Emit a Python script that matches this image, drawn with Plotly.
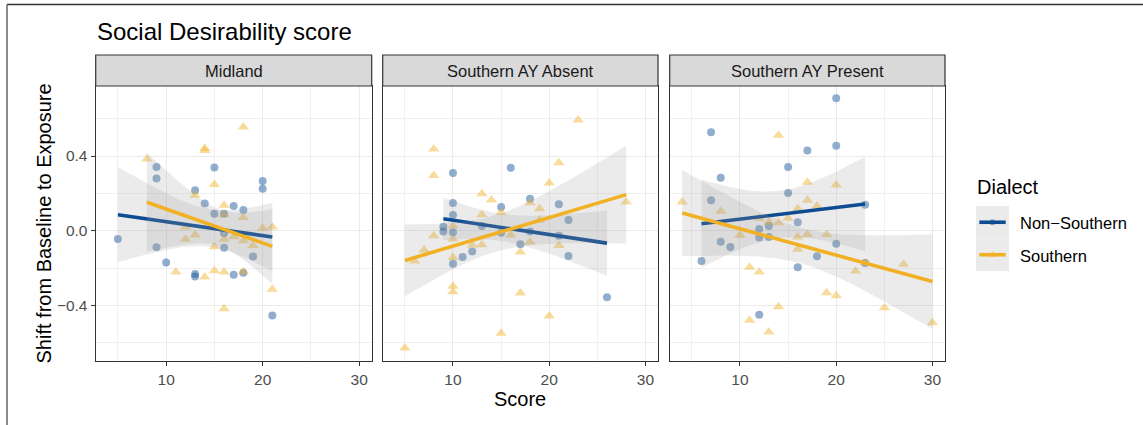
import numpy as np
import plotly.graph_objects as go

# ---------------- data ----------------
panels = ["Midland", "Southern AY Absent", "Southern AY Present"]
groups = ["Non\u2212Southern", "Southern"]

mid_ns_x = [5, 9, 9, 9, 10, 13, 13, 13, 14, 15, 15, 16, 16, 16, 17, 17, 18, 18, 19, 20, 20, 21]
mid_ns_y = [-0.045, 0.341, 0.279, -0.089, -0.171, 0.216, -0.232, -0.246, 0.146, 0.339, 0.091,
            0.091, -0.014, -0.091, 0.132, -0.236, 0.111, -0.225, -0.138, 0.266, 0.225, -0.454]
mid_s_x = [8, 13, 12, 12, 13, 11, 14, 14, 14, 15, 15, 15, 16, 16, 16, 16, 16, 17, 18, 18, 18, 18,
           19, 20, 21, 21]
mid_s_y = [0.384, 0.19, 0.02, -0.046, -0.023, -0.221, 0.44, 0.43, -0.248, 0.248, -0.086, -0.214,
           0.136, 0.086, -0.046, -0.221, -0.418, -0.032, 0.555, 0.07, -0.054, -0.22, -0.08, 0.0125,
           0.02, -0.314]

abs_ns_x = [10, 10, 10, 10, 10, 9, 9, 11, 12, 13, 15, 15, 16, 17, 18, 18, 21, 21, 22, 22, 26]
abs_ns_y = [0.309, 0.148, 0.084, -0.009, -0.177, 0.021, -0.004, -0.141, -0.111, 0.025, 0.127,
            -0.011, 0.3375, -0.073, 0.171, -0.004, 0.141, -0.027, 0.057, -0.136, -0.357]
abs_s_x = [5, 6, 7, 8, 8, 8, 10, 10, 10, 10, 10, 12, 13, 13, 13, 14, 15, 15, 16, 17, 17, 18, 18,
           19, 19, 20, 20, 21, 21, 23, 28]
abs_s_y = [-0.629, -0.163, -0.104, 0.4375, 0.295, -0.027, 0.025, -0.045, -0.143, -0.298, -0.327,
           -0.077, 0.198, 0.086, -0.075, 0.164, 0.098, -0.55, -0.023, -0.114, -0.334, 0.15, -0.061,
           0.118, 0.057, 0.255, -0.457, 0.364, -0.079, 0.593, 0.154]

pre_ns_x = [7, 7, 6, 8, 8, 9, 12, 12, 12, 13, 13, 15, 15, 16, 16, 17, 18, 20, 20, 20, 23, 23]
pre_ns_y = [0.527, 0.1625, -0.1625, 0.284, -0.059, -0.0875, 0.009, -0.036, -0.45, 0.025, -0.034,
            0.341, 0.202, 0.045, -0.196, 0.43, -0.1375, 0.709, 0.455, -0.07, 0.139, -0.173]
pre_s_x = [4, 8, 10, 11, 11, 12, 12, 13, 13, 14, 14, 14, 15, 16, 16, 16, 17, 17, 17, 18, 19, 19,
           20, 20, 22, 23, 25, 27, 30]
pre_s_y = [0.154, 0.104, -0.025, -0.196, -0.48, 0.066, -0.221, 0.045, -0.543, 0.511, 0.043, -0.407,
           0.066, 0.118, -0.034, -0.1, 0.259, 0.1625, -0.02, 0.132, -0.02, -0.332, 0.245, -0.348,
           -0.216, -0.173, -0.413, -0.18, -0.493]

x_ticks = [10, 20, 30]
y_ticks = [-0.4, 0.0, 0.4]

# ---------------- style ----------------
W, H = 1143, 425
BLUE = "#0E4C92"
ORANGE = "#F2B124"
COLORS = [BLUE, ORANGE]
SYMBOLS = ["circle", "triangle-up"]
SIZES = [8, 10]
FONT = "Liberation Sans, Arial, Helvetica, sans-serif"

def px_x(p):
    return p / W

def px_y(p):
    return 1 - p / H

x_domains = [[px_x(95.7), px_x(371.7)], [px_x(382.7), px_x(658.0)], [px_x(669.7), px_x(945.0)]]
y_domain = [px_y(361), px_y(86)]
strip_top = px_y(55)

data = [
    [(mid_ns_x, mid_ns_y), (mid_s_x, mid_s_y)],
    [(abs_ns_x, abs_ns_y), (abs_s_x, abs_s_y)],
    [(pre_ns_x, pre_ns_y), (pre_s_x, pre_s_y)],
]


def t975(df):
    z = 1.959964
    return (z + (z ** 3 + z) / (4 * df) + (5 * z ** 5 + 16 * z ** 3 + 3 * z) / (96 * df ** 2)
            + (3 * z ** 7 + 19 * z ** 5 + 17 * z ** 3 - 15 * z) / (384 * df ** 3))


def lm_fit(x, y):
    x = np.asarray(x, float)
    y = np.asarray(y, float)
    n = len(x)
    xm, ym = x.mean(), y.mean()
    sxx = ((x - xm) ** 2).sum()
    b1 = ((x - xm) * (y - ym)).sum() / sxx
    b0 = ym - b1 * xm
    s2 = ((y - b0 - b1 * x) ** 2).sum() / (n - 2)
    xs = np.linspace(x.min(), x.max(), 80)
    fit = b0 + b1 * xs
    se = np.sqrt(s2 * (1 / n + (xs - xm) ** 2 / sxx))
    t = t975(n - 2)
    return xs, fit, fit - t * se, fit + t * se


fig = go.Figure()

for i in range(3):
    xa = "x" if i == 0 else f"x{i+1}"
    ya = "y" if i == 0 else f"y{i+1}"
    # points
    for g in range(2):
        gx, gy = data[i][g]
        fig.add_trace(go.Scatter(
            x=gx, y=gy, mode="markers", xaxis=xa, yaxis=ya, showlegend=False,
            hoverinfo="skip",
            marker=dict(symbol=SYMBOLS[g], size=SIZES[g], color=COLORS[g], opacity=0.45,
                        line=dict(width=0))))
    # smooths
    for g in range(2):
        gx, gy = data[i][g]
        xs, fit, lo, hi = lm_fit(gx, gy)
        fig.add_trace(go.Scatter(
            x=np.concatenate([xs, xs[::-1]]), y=np.concatenate([hi, lo[::-1]]),
            mode="lines", fill="toself", fillcolor="rgba(153,153,153,0.2)",
            line=dict(width=0), xaxis=xa, yaxis=ya, showlegend=False, hoverinfo="skip"))
        fig.add_trace(go.Scatter(
            x=xs, y=fit, mode="lines", line=dict(color=COLORS[g], width=3.6),
            xaxis=xa, yaxis=ya, showlegend=False, hoverinfo="skip"))

# legend key glyphs (own small axis)
leg_x = [px_x(976), px_x(1009)]
leg_y = [px_y(271), px_y(206)]
leg_rows = [1.5, 0.5]
for g in range(2):
    fig.add_trace(go.Scatter(
        x=[0.5], y=[leg_rows[g]], mode="markers", xaxis="x4", yaxis="y4", showlegend=False,
        hoverinfo="skip",
        marker=dict(symbol=SYMBOLS[g], size=SIZES[g] - 2, color=COLORS[g], opacity=0.45,
                    line=dict(width=0))))
    fig.add_trace(go.Scatter(
        x=[0.1, 0.9], y=[leg_rows[g], leg_rows[g]], mode="lines", xaxis="x4", yaxis="y4",
        showlegend=False, hoverinfo="skip", line=dict(color=COLORS[g], width=3.6)))

layout = dict(
    width=W, height=H, margin=dict(l=0, r=0, t=0, b=0),
    paper_bgcolor="white", plot_bgcolor="white", showlegend=False,
    font=dict(family=FONT, color="#1A1A1A"),
)

for i in range(3):
    xk = "xaxis" if i == 0 else f"xaxis{i+1}"
    yk = "yaxis" if i == 0 else f"yaxis{i+1}"
    ya = "y" if i == 0 else f"y{i+1}"
    xa = "x" if i == 0 else f"x{i+1}"
    layout[xk] = dict(
        domain=x_domains[i], anchor=ya, range=[2.7, 31.3], tickvals=x_ticks,
        showgrid=True, gridcolor="#EBEBEB", gridwidth=1.1, zeroline=False,
        minor=dict(dtick=5, tick0=0, showgrid=True, gridcolor="#F0F0F0", gridwidth=0.7, ticks=""),
        showline=True, mirror=True, linecolor="#333333", linewidth=1.2,
        ticks="outside", ticklen=4, tickwidth=1.1, tickcolor="#333333",
        tickfont=dict(size=15.5, color="#4D4D4D", family=FONT), automargin=False)
    layout[yk] = dict(
        domain=y_domain, anchor=xa, range=[-0.698, 0.775], tickvals=y_ticks,
        tickformat=".1f",
        showgrid=True, gridcolor="#EBEBEB", gridwidth=1.1, zeroline=False,
        minor=dict(dtick=0.2, tick0=0, showgrid=True, gridcolor="#F0F0F0", gridwidth=0.7, ticks=""),
        showline=True, mirror=True, linecolor="#333333", linewidth=1.2,
        ticks="outside" if i == 0 else "", ticklen=4, tickwidth=1.1, tickcolor="#333333",
        showticklabels=(i == 0),
        tickfont=dict(size=15.5, color="#4D4D4D", family=FONT), automargin=False)

layout["xaxis4"] = dict(domain=leg_x, anchor="y4", range=[0, 1], visible=False, fixedrange=True)
layout["yaxis4"] = dict(domain=leg_y, anchor="x4", range=[0, 2], visible=False, fixedrange=True)

shapes = []
annotations = []
for i in range(3):
    shapes.append(dict(type="rect", xref="paper", yref="paper",
                       x0=x_domains[i][0], x1=x_domains[i][1], y0=y_domain[1], y1=strip_top,
                       fillcolor="#D9D9D9", line=dict(color="#333333", width=1.2), layer="above"))
    annotations.append(dict(text=panels[i], xref="paper", yref="paper",
                            x=(x_domains[i][0] + x_domains[i][1]) / 2,
                            y=(y_domain[1] + strip_top) / 2, xanchor="center", yanchor="middle",
                            showarrow=False, font=dict(size=16.5, color="#1A1A1A", family=FONT)))

# legend key backgrounds
for r in range(2):
    top = 206 + r * 32.5
    shapes.append(dict(type="rect", xref="paper", yref="paper", x0=leg_x[0], x1=leg_x[1],
                       y0=px_y(top + 32.5), y1=px_y(top), fillcolor="#EBEBEB",
                       line=dict(width=0), layer="below"))

# page frame (top and left edges)
shapes.append(dict(type="line", xref="paper", yref="paper", x0=px_x(7), x1=1.0,
                   y0=px_y(4.5), y1=px_y(4.5), line=dict(color="#333333", width=1.5)))
shapes.append(dict(type="line", xref="paper", yref="paper", x0=px_x(7), x1=px_x(7),
                   y0=0.0, y1=px_y(4.5), line=dict(color="#666666", width=1.5)))

annotations += [
    dict(text="Social Desirability score", xref="paper", yref="paper", x=px_x(95), y=px_y(31),
         xanchor="left", yanchor="middle", showarrow=False,
         font=dict(size=24, color="#000000", family=FONT)),
    dict(text="Score", xref="paper", yref="paper", x=px_x(520), y=px_y(399),
         xanchor="center", yanchor="middle", showarrow=False,
         font=dict(size=20, color="#000000", family=FONT)),
    dict(text="Shift from Baseline to Exposure", xref="paper", yref="paper", x=px_x(43),
         y=px_y(223.5), xanchor="center", yanchor="middle", textangle=-90, showarrow=False,
         font=dict(size=20, color="#000000", family=FONT)),
    dict(text="Dialect", xref="paper", yref="paper", x=px_x(975), y=px_y(187),
         xanchor="left", yanchor="middle", showarrow=False,
         font=dict(size=20, color="#000000", family=FONT)),
    dict(text=groups[0], xref="paper", yref="paper", x=px_x(1018), y=px_y(222.5),
         xanchor="left", yanchor="middle", showarrow=False,
         font=dict(size=16.5, color="#000000", family=FONT)),
    dict(text=groups[1], xref="paper", yref="paper", x=px_x(1018), y=px_y(255.5),
         xanchor="left", yanchor="middle", showarrow=False,
         font=dict(size=16.5, color="#000000", family=FONT)),
]

layout["shapes"] = shapes
layout["annotations"] = annotations
fig.update_layout(**layout)

fig.write_html("out.html", config={"displayModeBar": False},
               post_script="document.body.style.margin='0';document.body.style.padding='0';")
